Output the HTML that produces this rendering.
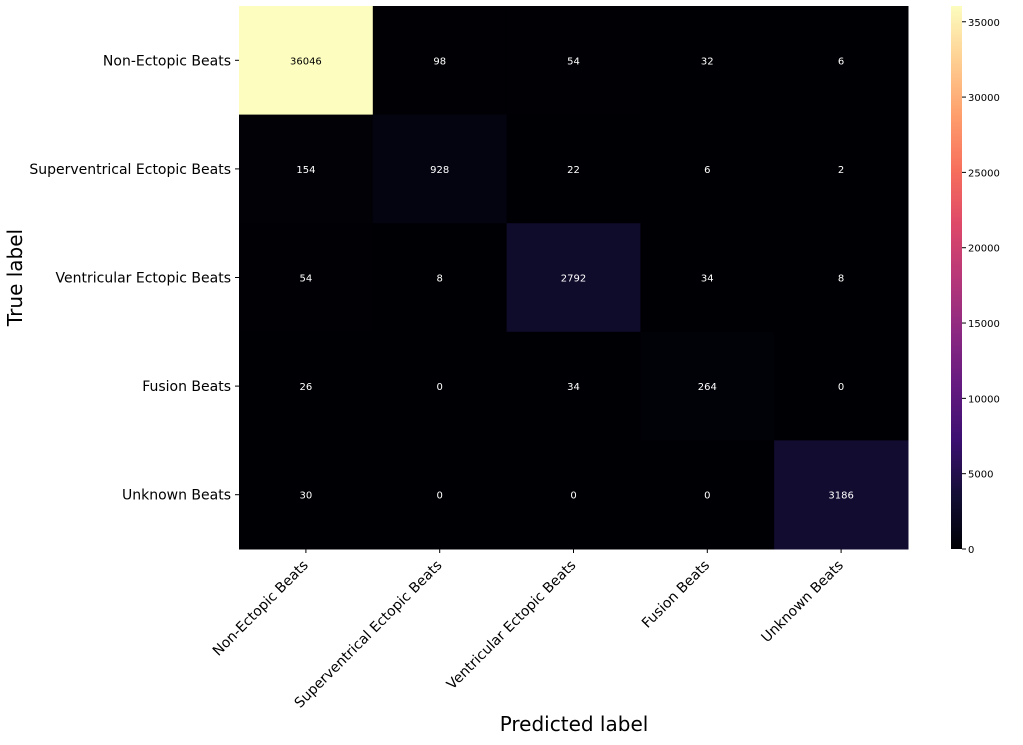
<!DOCTYPE html>
<html><head><meta charset="utf-8"><style>
body{margin:0;background:#fff;width:1023px;height:740px;overflow:hidden}
text{font-family:"DejaVu Sans","Liberation Sans",sans-serif}
</style></head><body>
<svg id="chart" width="1023" height="740" xmlns="http://www.w3.org/2000/svg"></svg>
<script>
const categories = ["Non-Ectopic Beats","Superventrical Ectopic Beats","Ventricular Ectopic Beats","Fusion Beats","Unknown Beats"];
const row0 = [36046,98,54,32,6];
const row1 = [154,928,22,6,2];
const row2 = [54,8,2792,34,8];
const row3 = [26,0,34,264,0];
const row4 = [30,0,0,0,3186];
const matrix = [row0,row1,row2,row3,row4];
const cbarTicks = [0,5000,10000,15000,20000,25000,30000,35000];
const vmax = 36046;

const NS="http://www.w3.org/2000/svg";
const svg=document.getElementById('chart');
function mk(tag,attrs,parent){const e=document.createElementNS(NS,tag);for(const k in attrs)e.setAttribute(k,attrs[k]);(parent||svg).appendChild(e);return e;}
const X0=239,X1=908,Y0=6,Y1=549;
const cw=(X1-X0)/categories.length, ch=(Y1-Y0)/categories.length;
const xPos=i=>X0+i*cw, yPos=i=>Y0+i*ch;
const stops=[[0,[0,0,4]],[0.05,[8,7,30]],[0.1,[20,14,54]],[0.2,[59,15,112]],[0.3,[100,26,128]],[0.4,[140,41,129]],[0.5,[183,55,121]],[0.6,[222,73,104]],[0.7,[247,112,92]],[0.8,[254,159,109]],[0.9,[254,207,146]],[1,[252,253,191]]];
function magma(t){t=Math.max(0,Math.min(1,t));for(let i=1;i<stops.length;i++){if(t<=stops[i][0]){const a=stops[i-1],b=stops[i],f=(t-a[0])/(b[0]-a[0]);const c=a[1].map((v,k)=>Math.round(v+(b[1][k]-v)*f));return `rgb(${c})`;}}return 'rgb(252,253,191)';}

matrix.forEach((row,r)=>row.forEach((v,c)=>{
  const rect=mk('rect',{x:xPos(c),y:yPos(r),width:cw+0.5,height:ch+0.5,fill:magma(v/vmax)});
  
  
  const t=mk('text',{x:xPos(c)+cw/2,y:yPos(r)+ch/2+4,'text-anchor':'middle','font-size':10,fill:v/vmax>0.5?'#000':'#fff'});
  t.textContent=v;
  
  
}));
categories.forEach((name,i)=>{
  const cy=yPos(i)+ch/2;
  mk('line',{x1:X0-4,x2:X0,y1:cy,y2:cy,stroke:'#000'});
  const t=mk('text',{x:X0-8,y:cy+5,'text-anchor':'end','font-size':14});
  t.textContent=name;
  
  
  const cx=xPos(i)+cw/2;
  mk('line',{x1:cx,x2:cx,y1:Y1,y2:Y1+4,stroke:'#000'});
  const tx=mk('text',{x:0,y:0,'text-anchor':'end','font-size':14,transform:`translate(${cx+3},${Y1+17}) rotate(-45)`});
  tx.textContent=name;
  
  
});
const yt=mk('text',{x:0,y:0,'text-anchor':'middle','font-size':20,transform:`translate(22,${(Y0+Y1)/2}) rotate(-90)`});
yt.textContent='True label';


const xt=mk('text',{x:574,y:731,'text-anchor':'middle','font-size':20});
xt.textContent='Predicted label';


// colorbar
const CX=951,CW=11;
const defs=mk('defs',{});
const g=mk('linearGradient',{id:'cg',x1:0,y1:1,x2:0,y2:0},defs);
for(let i=0;i<=20;i++)mk('stop',{offset:i/20,'stop-color':magma(i/20)},g);
const cb=mk('rect',{x:CX,y:Y0,width:CW,height:Y1-Y0,fill:'url(#cg)'});


const cy=v=>Y1-(v/vmax)*(Y1-Y0);
cbarTicks.forEach(v=>{
  mk('line',{x1:CX+CW,x2:CX+CW+4,y1:cy(v),y2:cy(v),stroke:'#000'});
  const t=mk('text',{x:CX+CW+6,y:cy(v)+4,'font-size':10});
  t.textContent=v;
  
  
});
</script>
</body></html>
